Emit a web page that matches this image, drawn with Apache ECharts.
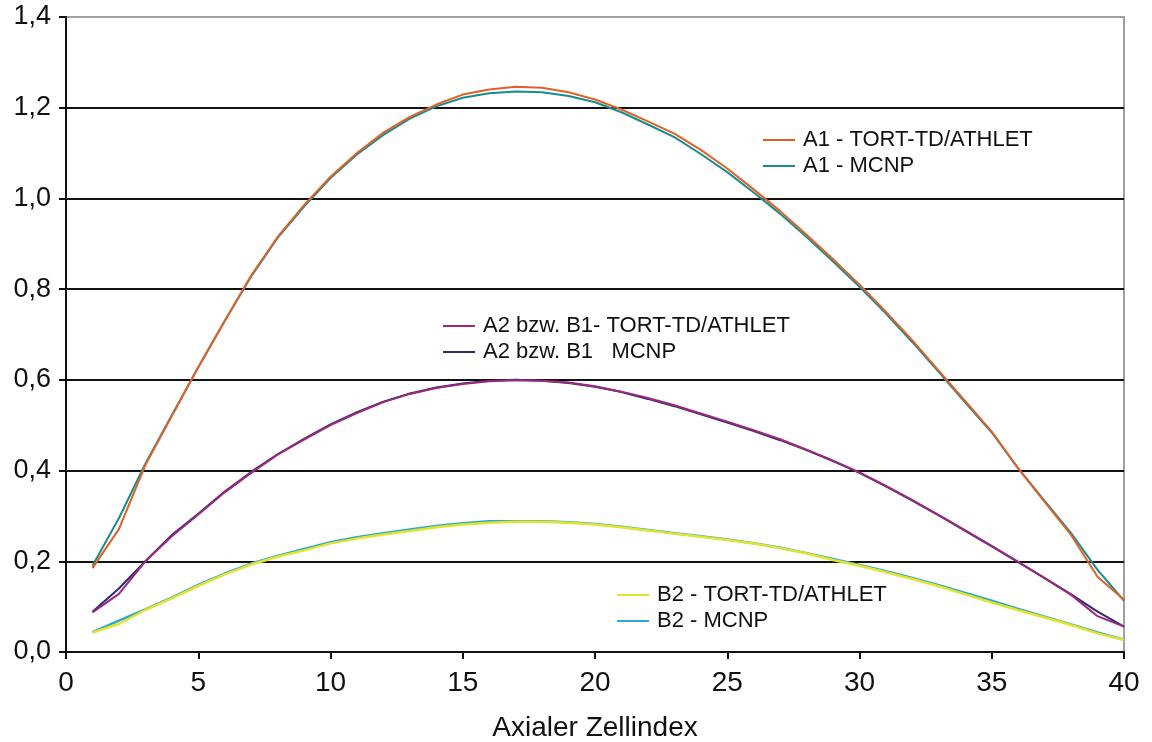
<!DOCTYPE html>
<html>
<head>
<meta charset="utf-8">
<script src="https://cdn.jsdelivr.net/npm/echarts@6/dist/echarts.min.js"></script>
<style>html,body{margin:0;padding:0;background:#fff;}#chart{width:1152px;height:742px;}</style>
</head>
<body>
<div id="chart"></div>
<script>
const cellIndex = [1,2,3,4,5,6,7,8,9,10,11,12,13,14,15,16,17,18,19,20,21,22,23,24,25,26,27,28,29,30,31,32,33,34,35,36,37,38,39,40];
const yTicks = [0, 0.2, 0.4, 0.6, 0.8, 1.0, 1.2, 1.4];
const xTicks = [0, 5, 10, 15, 20, 25, 30, 35, 40];
const seriesNames = ["A1 - TORT-TD/ATHLET","A1 - MCNP","A2 bzw. B1- TORT-TD/ATHLET","A2 bzw. B1   MCNP","B2 - TORT-TD/ATHLET","B2 - MCNP"];

const a1Tort = [0.185,0.271,0.412,0.52,0.628,0.73,0.83,0.915,0.985,1.048,1.10,1.145,1.18,1.207,1.229,1.240,1.246,1.244,1.234,1.218,1.196,1.17,1.143,1.107,1.066,1.02,0.972,0.92,0.866,0.81,0.75,0.687,0.62,0.553,0.486,0.405,0.331,0.258,0.166,0.115];
const a1Mcnp = [0.19,0.295,0.415,0.522,0.628,0.73,0.828,0.913,0.982,1.045,1.097,1.14,1.176,1.203,1.222,1.232,1.236,1.234,1.226,1.212,1.19,1.163,1.135,1.098,1.058,1.013,0.966,0.915,0.861,0.805,0.746,0.683,0.617,0.55,0.484,0.405,0.333,0.262,0.181,0.113];
const a2Tort = [0.0875,0.128,0.2,0.255,0.303,0.352,0.395,0.435,0.468,0.5,0.527,0.551,0.569,0.582,0.591,0.597,0.599,0.598,0.594,0.586,0.574,0.56,0.544,0.526,0.508,0.489,0.469,0.446,0.422,0.396,0.366,0.335,0.302,0.268,0.234,0.199,0.163,0.126,0.079,0.056];
const a2Mcnp = [0.089,0.14,0.2,0.258,0.305,0.354,0.397,0.436,0.47,0.502,0.529,0.552,0.57,0.583,0.592,0.598,0.6,0.598,0.593,0.585,0.573,0.558,0.542,0.524,0.506,0.487,0.467,0.445,0.421,0.395,0.365,0.334,0.301,0.267,0.233,0.198,0.163,0.127,0.089,0.056];
const b2Tort = [0.0426,0.0617,0.0926,0.118,0.1455,0.171,0.193,0.21,0.224,0.2395,0.25,0.259,0.267,0.275,0.281,0.285,0.287,0.287,0.285,0.281,0.275,0.268,0.261,0.254,0.247,0.239,0.229,0.217,0.203,0.19,0.176,0.161,0.145,0.127,0.109,0.092,0.076,0.0595,0.041,0.0265];
const b2Mcnp = [0.0435,0.069,0.094,0.12,0.148,0.173,0.195,0.212,0.227,0.242,0.253,0.262,0.27,0.278,0.284,0.288,0.288,0.288,0.286,0.282,0.276,0.269,0.262,0.255,0.248,0.24,0.23,0.218,0.205,0.192,0.178,0.163,0.147,0.13,0.113,0.095,0.078,0.061,0.043,0.027];

const colors = {
  a1Tort: '#e0602a', a1Mcnp: '#1a8c8c',
  a2Tort: '#9c2a7c', a2Mcnp: '#2c2a78',
  b2Tort: '#e4e42a', b2Mcnp: '#2aa8d8'
};

function pairs(vals){ return cellIndex.map((x,i)=>[x, vals[i]]); }
function line(name, vals, color, width){
  return {name, type:'line', data:pairs(vals), symbol:'none', showSymbol:false, smooth:false,
    lineStyle:{color, width}, itemStyle:{color}, emphasis:{disabled:true}, animation:false};
}

const chart = echarts.init(document.getElementById('chart'), null, {renderer:'canvas'});
const legendText = {fontFamily:'Liberation Sans, Arial, sans-serif', fontSize:22, color:'#111', lineHeight:26, padding:[0,0,0,3]};
const legendBase = {orient:'vertical', itemWidth:32, itemHeight:14, itemGap:0, icon:'path://M0,6 L32,6 L32,8 L0,8 Z', textStyle:legendText, selectedMode:false};
chart.setOption({
  backgroundColor:'#fff',
  animation:false,
  grid:{left:66, right:28, top:17, bottom:90, containLabel:false, outerBoundsMode:'none', show:true, borderColor:'#a0a0a0', borderWidth:2, backgroundColor:'transparent'},
  legend:[
    Object.assign({}, legendBase, {left:758, top:122, data:[seriesNames[0], seriesNames[1]]}),
    Object.assign({}, legendBase, {left:438, top:308, data:[seriesNames[2], seriesNames[3]]}),
    Object.assign({}, legendBase, {left:612, top:577, data:[seriesNames[4], seriesNames[5]]})
  ],
  xAxis:{type:'value', min:xTicks[0], max:xTicks[xTicks.length-1], interval:5,
    name:'Axialer Zellindex', nameLocation:'middle', nameGap:62,
    nameTextStyle:{fontFamily:'Liberation Sans, Arial, sans-serif', fontSize:28, color:'#111'},
    axisLine:{lineStyle:{color:'#111', width:2}},
    axisTick:{show:true, inside:false, length:7, lineStyle:{color:'#111', width:2}},
    axisLabel:{fontFamily:'Liberation Sans, Arial, sans-serif', fontSize:28, color:'#111', margin:17},
    splitLine:{show:false}},
  yAxis:{type:'value', min:yTicks[0], max:yTicks[yTicks.length-1], interval:0.2,
    axisLine:{show:true, lineStyle:{color:'#111', width:2}},
    axisTick:{show:true, inside:false, length:7, lineStyle:{color:'#111', width:2}},
    axisLabel:{fontFamily:'Liberation Sans, Arial, sans-serif', fontSize:27, color:'#111', margin:15,
      formatter:v=>v.toFixed(1).replace('.', ',')},
    splitLine:{show:true, lineStyle:{color:['#111','#111','#111','#111','#111','#111','#111','#a0a0a0'], width:2}}},
  series:[
    line(seriesNames[1], a1Mcnp, colors.a1Mcnp, 2),
    line(seriesNames[0], a1Tort, colors.a1Tort, 2),
    line(seriesNames[3], a2Mcnp, colors.a2Mcnp, 2),
    line(seriesNames[2], a2Tort, colors.a2Tort, 2),
    line(seriesNames[5], b2Mcnp, colors.b2Mcnp, 2.5),
    line(seriesNames[4], b2Tort, colors.b2Tort, 2.5)
  ]
});
</script>
</body>
</html>
